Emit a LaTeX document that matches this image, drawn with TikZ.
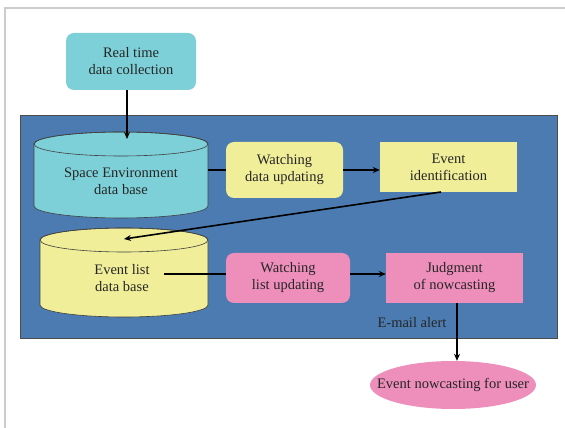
\documentclass[tikz,border=0pt]{standalone}
\usepackage{fontspec}
\setmainfont{Liberation Serif}
\usetikzlibrary{arrows.meta,shapes.geometric}
\definecolor{cyanbox}{HTML}{7DD0D8}
\definecolor{yellowbox}{HTML}{F0EE99}
\definecolor{pinkbox}{HTML}{EE8EBB}
\definecolor{panelblue}{HTML}{4B7BB0}
\definecolor{framegray}{HTML}{CCCCCC}
\tikzset{
  lbl/.style={font=\fontsize{14.5}{17}\selectfont, align=center, text=black!85, inner sep=0pt},
  rbox/.style={lbl, rounded corners=8pt, minimum width=#1},
  sbox/.style={lbl, minimum width=#1},
  conn/.style={line width=1.6pt, black},
  arr/.style={conn, -{Stealth[length=7pt,width=6pt]}},
  cylline/.style={draw=black!75, line width=0.6pt}
}
\begin{document}
\begin{tikzpicture}[x=1pt,y=1pt]
\useasboundingbox (0,0) rectangle (565,428);
% outer frame
\draw[framegray, line width=1.5pt] (5,0) -- (5,420) -- (566,420);
% blue panel
\node[draw=black!70, line width=0.6pt, fill=panelblue, minimum width=537pt, minimum height=223pt, inner sep=0pt] (panel) at (288.5,201.5) {};
% real time box
\node[rbox=130pt, minimum height=57pt, fill=cyanbox] (rt) at (131,366.5) {Real time\\data collection};
% cylinder 1
\path[fill=cyanbox, cylline] (34,284) -- (34,222) arc[start angle=180, end angle=360, x radius=87pt, y radius=12pt] -- (208,284) arc[start angle=0, end angle=180, x radius=87pt, y radius=12pt] -- cycle;
\draw[cylline] (121,284) ellipse [x radius=87pt, y radius=12pt];
\node[lbl] (sedb) at (121,247) {Space Environment\\data base};
% cylinder 2
\path[fill=yellowbox, cylline] (40,188) -- (40,123) arc[start angle=180, end angle=360, x radius=84pt, y radius=12pt] -- (208,188) arc[start angle=0, end angle=180, x radius=84pt, y radius=12pt] -- cycle;
\draw[cylline] (124,188) ellipse [x radius=84pt, y radius=12pt];
\node[lbl] (eldb) at (122,149.5) {Event list\\data base};
% boxes
\node[rbox=117pt, minimum height=56pt, fill=yellowbox] (wd) at (284.5,258) {Watching\\data updating};
\node[sbox=137pt, minimum height=50pt, fill=yellowbox] (ei) at (448.5,261) {Event\\identification};
\node[rbox=124pt, minimum height=50pt, fill=pinkbox] (wl) at (288,150) {Watching\\list updating};
\node[sbox=137pt, minimum height=50pt, fill=pinkbox] (jn) at (454.5,150) {Judgment\\of nowcasting};
\node[ellipse, fill=pinkbox, inner sep=0pt, minimum width=166pt, minimum height=48pt,
      label={[lbl]center:Event nowcasting for user}] (en) at (453,43) {};
\node[lbl] (mail) at (412,105) {E-mail alert};
% connector coordinates
\coordinate (c1top) at (127,289);
\coordinate (c1r) at (208,258);
\coordinate (eis) at (441,236);
\coordinate (c2top) at (124,189);
\coordinate (c2in) at (164,154);
% connectors
\draw[arr] (c1top |- rt.south) -- (c1top);
\draw[conn] (c1r) -- (wd.west |- c1r);
\draw[arr] (wd.east |- c1r) -- (ei.west |- c1r);
\draw[arr] (eis) -- (c2top);
\draw[conn] (c2in) -- (wl.west |- c2in);
\draw[arr] (wl.east |- c2in) -- (jn.west |- c2in);
\draw[arr] (457,0 |- jn.south) -- (457,0 |- en.north);
\end{tikzpicture}
\end{document}
